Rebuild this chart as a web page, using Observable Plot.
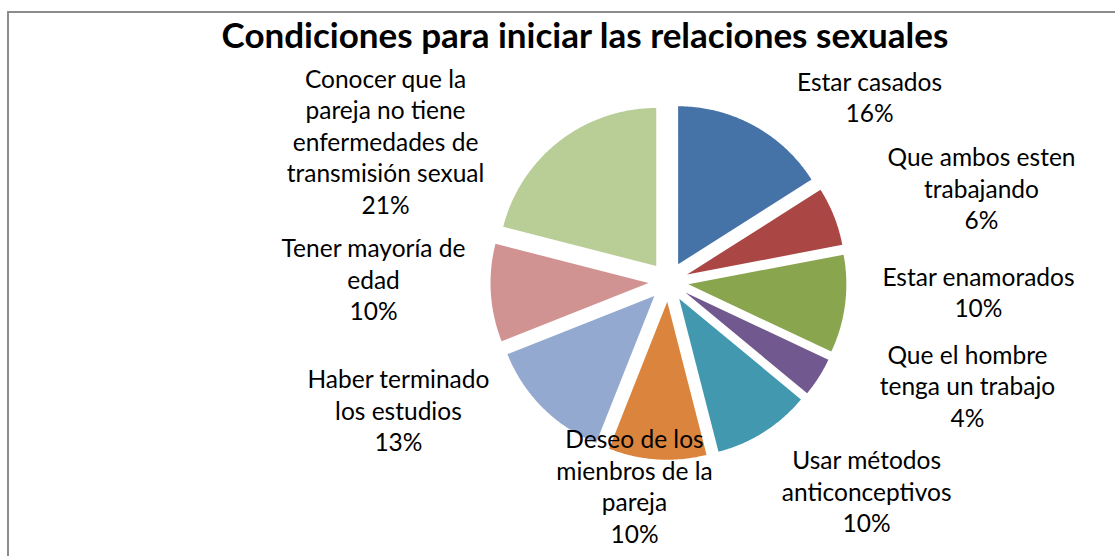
<!DOCTYPE html>
<html><head><meta charset="utf-8">
<script src="https://cdn.jsdelivr.net/npm/d3@7"></script>
<script src="https://cdn.jsdelivr.net/npm/@observablehq/plot@0.6"></script>
<style>
html,body{margin:0;padding:0;background:#fff;overflow:hidden;}
#wrap{position:relative;width:1115px;height:556px;overflow:hidden;}
#frame{position:absolute;left:7px;top:11px;width:1200px;height:600px;border:2px solid #8d8d8d;box-sizing:border-box;}
#title{position:absolute;left:85px;width:1000px;top:12px;line-height:44px;text-align:center;font-family:Lato,sans-serif;font-weight:bold;font-size:35px;color:#000;}
#chart{position:absolute;left:0;top:56px;}
</style></head><body>
<div id="wrap"><div id="frame"></div><div id="title">Condiciones para iniciar las relaciones sexuales</div><div id="chart"></div></div>
<script>
// Categories in clockwise order starting at 12 o'clock (label line breaks as in the chart)
const categories = [
  "Estar casados",
  "Que ambos esten\ntrabajando",
  "Estar enamorados",
  "Que el hombre\ntenga un trabajo",
  "Usar métodos\nanticonceptivos",
  "Deseo de los\nmienbros de la\npareja",
  "Haber terminado\nlos estudios",
  "Tener mayoría de\nedad",
  "Conocer que la\npareja no tiene\nenfermedades de\ntransmisión sexual"
];
const values = [16, 6, 10, 4, 10, 10, 13, 10, 21];
const colors = ["#4572A7", "#AA4643", "#89A54E", "#71588F", "#4198AF", "#DB843D", "#93A9CF", "#D19392", "#B9CD96"];

// Label layout (polar, measured from pie centre): angle in degrees clockwise from top, distance in pie radii
const labelAngle = [47.6, 73.6, 92.1, 109.4, 136.8, 189.4, 244.3, 270.2, 296.2];
const labelDist  = [1.723, 2.065, 1.963, 2.006, 1.832, 1.318, 1.897, 1.867, 1.996];

// Geometry (pixels)
const W = 1115, H = 500;
const R = 158, CX = 668, CY = 225.3, EXPLODE = 20;

const rad = Math.PI / 180;
const total = d3.sum(values);
let acc = 0;
const slices = values.map((v, i) => {
  const a0 = acc / total * 360; acc += v; const a1 = acc / total * 360;
  return {name: categories[i], a0, a1, mid: (a0 + a1) / 2};
});
const ex = EXPLODE / R;
const pts = [];
for (const s of slices) {
  const ox = ex * Math.sin(s.mid * rad), oy = ex * Math.cos(s.mid * rad);
  pts.push({name: s.name, x: ox, y: oy});
  const n = Math.max(2, Math.ceil((s.a1 - s.a0) / 0.5));
  for (let k = 0; k <= n; k++) {
    const a = (s.a0 + (s.a1 - s.a0) * k / n) * rad;
    pts.push({name: s.name, x: ox + Math.sin(a), y: oy + Math.cos(a)});
  }
  pts.push({name: s.name, x: ox, y: oy});
}
const labels = categories.map((c, i) => ({
  text: c + "\n" + values[i] + "%",
  x: labelDist[i] * Math.sin(labelAngle[i] * rad),
  y: labelDist[i] * Math.cos(labelAngle[i] * rad)
}));

const chart = Plot.plot({
  width: W, height: H, margin: 0,
  style: {background: "transparent", overflow: "visible"},
  x: {domain: [-CX / R, (W - CX) / R], axis: null},
  y: {domain: [-(H - CY) / R, CY / R], axis: null},
  color: {domain: categories, range: colors},
  marks: [
    Plot.line(pts, {x: "x", y: "y", z: "name", fill: "name", stroke: null, curve: "linear"}),
    Plot.text(labels, {x: "x", y: "y", text: "text", fontSize: 24.5, lineHeight: 1.286, dy: -2,
      fontFamily: "Lato, sans-serif", fill: "#000", textAnchor: "middle", lineAnchor: "middle"})
  ]
});
document.getElementById("chart").appendChild(chart);
</script>
</body></html>
